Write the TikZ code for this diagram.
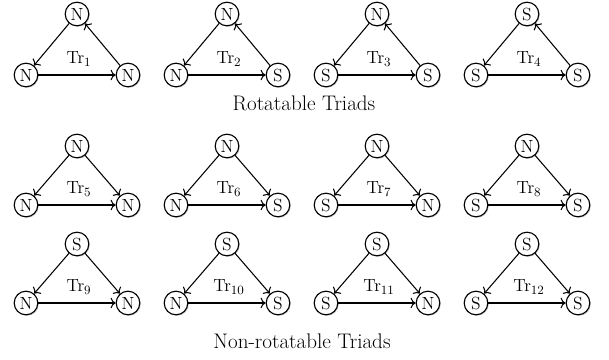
\documentclass[tikz,border=0pt]{standalone}
\usepackage{amsmath}
\usetikzlibrary{arrows.meta,calc,shadows}

\tikzset{
  vert/.style={circle,draw,line width=0.8pt,fill=white,inner sep=0pt,
               minimum size=16.8pt,font=\fontsize{12.5}{14}\selectfont,
               drop shadow={shadow xshift=0.7pt,shadow yshift=-0.7pt,opacity=0.45}},
  tie/.style={-{To[length=3.6pt,width=7.5pt]},line width=0.75pt},
  tlabel/.style={font=\fontsize{12.5}{14}\selectfont},
  caption/.style={font=\fontsize{15}{18}\selectfont}
}

\begin{document}
\begin{tikzpicture}[x=0.025cm,y=-0.025cm]
  \useasboundingbox (0,0) rectangle (609,360);

  % rotatable triads (cyclic)
  \foreach \i/\cx/\ty/\a/\b/\c in {1/77/14/N/N/N, 2/227/14/N/N/S,
                                    3/377/14/N/S/S, 4/527/14/S/S/S}{
    \node[vert] (t\i) at (\cx,\ty) {\a};
    \node[vert] (l\i) at ($(\cx,\ty)+(-51,61)$) {\b};
    \node[vert] (r\i) at ($(\cx,\ty)+(51,61)$) {\c};
    \node[tlabel] (tr\i) at ($(\cx,\ty)+(2,45)$) {Tr$_{\i}$};
    \draw[tie] (t\i) -- (l\i);
    \draw[tie] (l\i) -- (r\i);
    \draw[tie] (r\i) -- (t\i);
  }
  \node[caption] (rot) at (304,103) {Rotatable Triads};

  % non-rotatable triads (transitive)
  \foreach \i/\cx/\ty/\a/\b/\c in {5/77/146/N/N/N, 6/227/146/N/N/S,
                                    7/377/146/N/S/N, 8/527/146/N/S/S,
                                    9/77/244/S/N/N, 10/227/244/S/N/S,
                                    11/377/244/S/S/N, 12/527/244/S/S/S}{
    \node[vert] (t\i) at (\cx,\ty) {\a};
    \node[vert] (l\i) at ($(\cx,\ty)+(-51,59)$) {\b};
    \node[vert] (r\i) at ($(\cx,\ty)+(51,59)$) {\c};
    \node[tlabel] (tr\i) at ($(\cx,\ty)+(2,43)$) {Tr$_{\i}$};
    \draw[tie] (t\i) -- (l\i);
    \draw[tie] (t\i) -- (r\i);
    \draw[tie] (l\i) -- (r\i);
  }
  \node[caption] (nonrot) at (302,341) {Non-rotatable Triads};
\end{tikzpicture}
\end{document}
